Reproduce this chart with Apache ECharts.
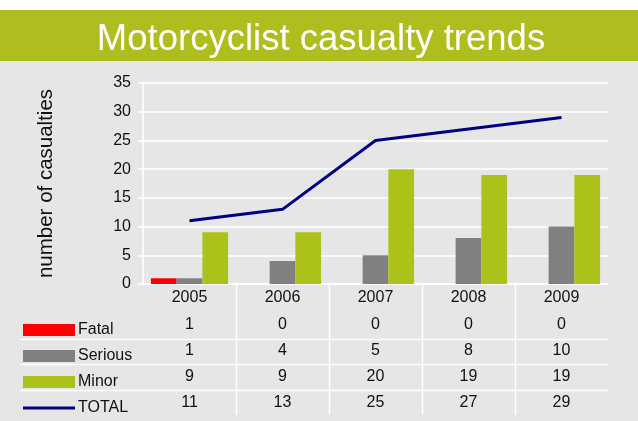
<!DOCTYPE html>
<html><head><meta charset="utf-8">
<script src="https://cdn.jsdelivr.net/npm/echarts@6/dist/echarts.min.js"></script>
<style>html,body{margin:0;padding:0;background:#fff}#c{width:638px;height:421px}</style>
</head><body><div id="c"></div>
<script>
const years = ['2005', '2006', '2007', '2008', '2009'];
const fatal = [1, 0, 0, 0, 0];
const serious = [1, 4, 5, 8, 10];
const minor = [9, 9, 20, 19, 19];
const total = [11, 13, 25, 27, 29];
const seriesNames = ['Fatal', 'Serious', 'Minor', 'TOTAL'];
const yMin = 0, yMax = 35, yStep = 5;

const FONT = '"Liberation Sans", Arial, sans-serif';
const TXT = '#111';
const GREEN_BAND = '#b0bd1f';
const GREEN_BAR = '#acc21a';

const chart = echarts.init(document.getElementById('c'), null, {renderer: 'canvas'});

const option = {
  animation: false,
  backgroundColor: '#e6e6e6',
  textStyle: {fontFamily: FONT},
  grid: {left: 143, right: 30, top: 83, bottom: 137, containLabel: false},
  legend: {
    orient: 'vertical', left: 23, top: 322, padding: 0,
    itemWidth: 52, itemHeight: 12, itemGap: 10,
    textStyle: {fontSize: 16, color: TXT, fontFamily: FONT, padding: [0, 0, 0, -2]},
    data: [
      {name: seriesNames[0], icon: 'rect'},
      {name: seriesNames[1], icon: 'rect'},
      {name: seriesNames[2], icon: 'rect'},
      {name: seriesNames[3], icon: 'path://M0,0L52,0L52,3L0,3Z'}
    ]
  },
  xAxis: {
    type: 'category', data: years,
    axisLine: {show: true, lineStyle: {color: '#fff', width: 1.5}},
    axisTick: {show: false},
    splitLine: {show: false},
    axisLabel: {
      interval: 0, margin: 0, color: TXT,
      formatter: function (v, i) {
        return '{y|' + v + '}\n{v|' + fatal[i] + '}\n{v|' + serious[i] + '}\n{v|' + minor[i] + '}\n{v|' + total[i] + '}';
      },
      rich: {
        y: {fontSize: 16, lineHeight: 28, color: TXT, fontFamily: FONT},
        v: {fontSize: 16, lineHeight: 26, color: TXT, fontFamily: FONT}
      }
    }
  },
  yAxis: {
    type: 'value', min: yMin, max: yMax, interval: yStep,
    name: 'number of casualties', nameLocation: 'middle', nameGap: 86,
    nameTextStyle: {fontSize: 20.5, color: TXT, fontFamily: FONT},
    axisLine: {show: true, lineStyle: {color: '#fff', width: 1.5}},
    axisTick: {show: true, length: 5, lineStyle: {color: '#fff', width: 1.5}},
    splitLine: {show: true, lineStyle: {color: '#fff', width: 1.5}},
    axisLabel: {fontSize: 16, color: TXT, margin: 12, fontFamily: FONT}
  },
  series: [
    {name: seriesNames[0], type: 'bar', data: fatal, itemStyle: {color: '#ff0000'}, barGap: '0%', barCategoryGap: '17%'},
    {name: seriesNames[1], type: 'bar', data: serious, itemStyle: {color: '#808080'}, barGap: '0%', barCategoryGap: '17%'},
    {name: seriesNames[2], type: 'bar', data: minor, itemStyle: {color: GREEN_BAR}, barGap: '0%', barCategoryGap: '17%'},
    {name: seriesNames[3], type: 'line', data: total, symbol: 'none', z: 5,
     itemStyle: {color: '#000080'}, lineStyle: {color: '#000080', width: 3}}
  ]
};
chart.setOption(option);

// decorations: header band, table grid lines
const gfx = [
  {type: 'rect', shape: {x: 0, y: 0, width: 638, height: 10}, style: {fill: '#fff'}, z: 0},
  {type: 'rect', shape: {x: 0, y: 10, width: 638, height: 51}, style: {fill: GREEN_BAND}, z: 0},
  {type: 'text', x: 321, y: 40, style: {text: 'Motorcyclist casualty trends', fill: '#fff', font: '36.5px ' + FONT, align: 'center', verticalAlign: 'middle'}, z: 1}
];
const c0 = chart.convertToPixel({xAxisIndex: 0}, years[0]);
const c1 = chart.convertToPixel({xAxisIndex: 0}, years[1]);
const band = c1 - c0;
const yBase = chart.convertToPixel({yAxisIndex: 0}, yMin);
const rightEdge = chart.convertToPixel({xAxisIndex: 0}, years[years.length - 1]) + band / 2;
for (let i = 1; i < years.length; i++) {
  const x = Math.round(c0 + band * (i - 0.5)) + 0.5;
  gfx.push({type: 'line', shape: {x1: x, y1: yBase, x2: x, y2: 415}, style: {stroke: '#fff', lineWidth: 1.5}, z: 0});
}
[339, 364, 390].forEach(function (y) {
  gfx.push({type: 'line', shape: {x1: 20, y1: y + 0.5, x2: rightEdge, y2: y + 0.5}, style: {stroke: '#fff', lineWidth: 1.5}, z: 0});
});
chart.setOption({graphic: gfx});
</script>
</body></html>
